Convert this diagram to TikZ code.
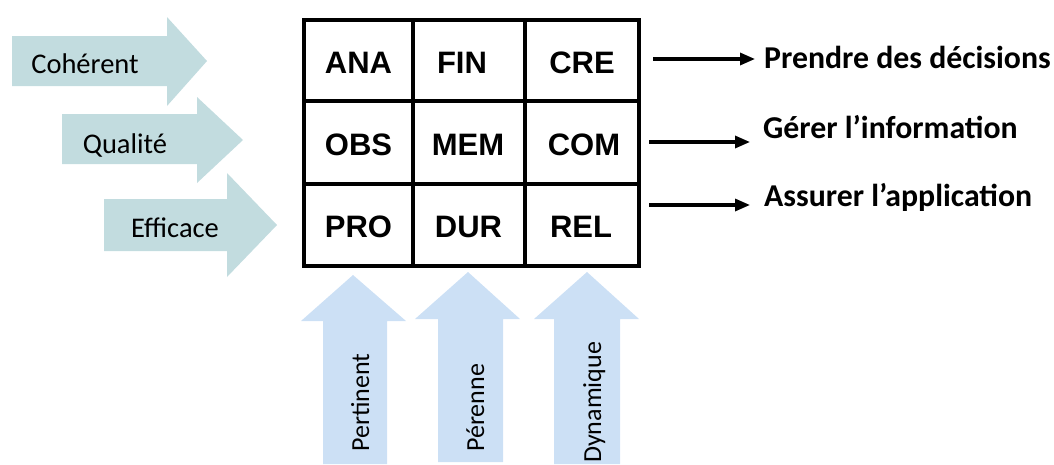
\documentclass[tikz,border=0pt]{standalone}
\usepackage{fontspec}
\usetikzlibrary{arrows.meta}
\newfontfamily\calfont{Carlito}
\newfontfamily\gridfont{Liberation Sans}
\definecolor{tealfill}{RGB}{194,220,223}
\definecolor{bluefill}{RGB}{204,224,245}
\tikzset{
  leftarrow/.style={fill=tealfill, draw=none},
  uparrow/.style={fill=bluefill, draw=none},
  celltext/.style={inner sep=0pt, anchor=base, font=\gridfont\bfseries\fontsize{31}{37}\selectfont},
  lefttext/.style={inner sep=0pt, anchor=base, font=\calfont\fontsize{28.5}{34}\selectfont},
  uptext/.style={inner sep=0pt, anchor=base west, rotate=90, font=\calfont\fontsize{26}{31}\selectfont},
  righttext/.style={inner sep=0pt, anchor=base west, font=\calfont\bfseries\fontsize{31.8}{38}\selectfont},
  gridline/.style={line width=3.2pt, draw=black},
  outarrow/.style={line width=3.2pt, -{Triangle[length=15pt,width=12pt]}},
}
\begin{document}
\begin{tikzpicture}[x=1pt,y=-1pt]
\useasboundingbox (0,0) rectangle (1054,464);
% left block arrows
\fill[leftarrow] (12,36) -- (167,36) -- (167,17) -- (207,61) -- (167,106) -- (167,86) -- (12,86) -- cycle;
\fill[leftarrow] (62,114) -- (197,114) -- (197,97) -- (243,140) -- (197,183) -- (197,164) -- (62,164) -- cycle;
\fill[leftarrow] (104,199) -- (227,199) -- (227,173) -- (277,225) -- (227,277) -- (227,251) -- (104,251) -- cycle;
\node[lefttext] (coh) at (85,73) {Cohérent};
\node[lefttext] (qua) at (125,153) {Qualité};
\node[lefttext] (eff) at (175,237) {Efficace};
% bottom block arrows
\fill[uparrow] (323,464) -- (323,321) -- (301,321) -- (353,275) -- (406,321) -- (387,321) -- (387,464) -- cycle;
\fill[uparrow] (438,462) -- (438,319) -- (415,319) -- (468,272) -- (520,319) -- (503,319) -- (503,462) -- cycle;
\fill[uparrow] (554,464) -- (554,319) -- (534,319) -- (587,272) -- (639,319) -- (620,319) -- (620,464) -- cycle;
\node[uptext] (per) at (369,452) {Pertinent};
\node[uptext] (pere) at (484,452) {Pérenne};
\node[uptext] (dyn) at (601,463) {Dynamique};
% grid
\draw[gridline] (304,20) rectangle (639,266);
\draw[gridline] (413,20) -- (413,266);
\draw[gridline] (525,20) -- (525,266);
\draw[gridline] (304,101) -- (639,101);
\draw[gridline] (304,184) -- (639,184);
\node[celltext] (ana) at (358.5,73) {ANA};
\node[celltext] (fin) at (462,73) {FIN};
\node[celltext] (cre) at (582,73) {CRE};
\node[celltext] (obs) at (358.5,155.5) {OBS};
\node[celltext] (mem) at (468,155.5) {MEM};
\node[celltext] (com) at (584,155.5) {COM};
\node[celltext] (pro) at (358.5,237.5) {PRO};
\node[celltext] (dur) at (468.5,237.5) {DUR};
\node[celltext] (rel) at (581,237.5) {REL};
% right texts and arrows
\node[righttext] (t1) at (764,68) {Prendre des décisions};
\node[righttext] (t2) at (763,138) {Gérer l’information};
\node[righttext] (t3) at (764,206) {Assurer l’application};
\coordinate (s1) at (653,59);
\coordinate (s2) at (649,142);
\coordinate (s3) at (649,205);
\draw[outarrow, shorten >=9pt] (s1) -- (s1 -| t1.west);
\draw[outarrow, shorten >=13pt] (s2) -- (s2 -| t2.west);
\draw[outarrow, shorten >=14pt] (s3) -- (s3 -| t3.west);
\end{tikzpicture}
\end{document}
